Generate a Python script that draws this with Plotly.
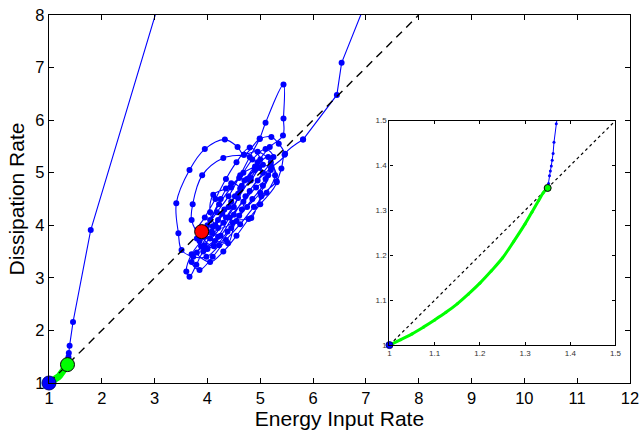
import plotly.graph_objects as go

# ---------------- data ----------------
start_x = [1.0]
start_y = [1.0]
green_pt_x = [1.35]
green_pt_y = [1.35]
red_pt_x = [3.89]
red_pt_y = [3.88]

# green (slow) approach from (1,1) to (1.35,1.35)
green_x = [1.0, 1.025, 1.05, 1.075, 1.10, 1.125, 1.15, 1.175, 1.20, 1.225, 1.25, 1.275, 1.30,
           1.315, 1.33, 1.34, 1.345, 1.35]
green_y = [1.0, 1.012, 1.025, 1.040, 1.056, 1.073, 1.092, 1.114, 1.138, 1.165, 1.194, 1.231, 1.270,
           1.296, 1.322, 1.339, 1.345, 1.35]

# early blue departure (includes off-chart excursion above y=8)
early_x = [1.35, 1.352, 1.354, 1.356, 1.358, 1.360, 1.362, 1.364, 1.369, 1.375, 1.39, 1.455, 1.79,
           3.40, 5.50, 7.30, 6.54, 6.45, 5.81]
early_y = [1.35, 1.360, 1.377, 1.388, 1.399, 1.412, 1.427, 1.452, 1.493, 1.57, 1.71, 2.16, 3.91,
           9.30, 10.5, 9.00, 7.09, 6.48, 5.63]

# chaotic cluster (ends at the red point)
cluster_x = [5.81, 5.47, 5.40, 5.31, 5.02, 4.83, 4.55, 4.39, 4.14, 3.92, 3.79, 3.66, 3.60, 3.70, 3.95,
             4.20, 4.45, 4.70, 4.95, 5.18, 5.43, 5.44, 5.44, 5.10, 4.99, 4.80, 4.62, 4.40, 4.18, 3.98,
             3.85, 4.00, 4.25, 4.50, 4.72, 4.95, 5.21, 5.46, 5.35, 5.21, 4.99, 4.69, 4.57, 4.33, 3.95,
             3.66, 3.41, 3.45, 3.51, 3.73, 3.98, 4.22, 4.45, 4.65, 4.80, 5.05, 5.25, 5.10, 4.85, 4.60,
             4.35, 4.11, 4.05, 4.20, 4.48, 4.75, 5.00, 5.15, 4.90, 4.65, 4.40, 4.15, 3.95, 3.80, 4.05,
             4.30, 4.55, 4.78, 5.00, 5.31, 5.20, 4.95, 4.69, 4.30, 3.90, 3.72, 3.70, 3.85, 4.10, 4.35,
             4.58, 4.82, 5.00, 4.80, 4.55, 4.35, 4.15, 3.95, 3.82,
             4.05, 4.30, 4.50, 4.62, 4.45, 4.25, 4.05, 3.90, 4.12, 4.38, 4.60, 4.85, 5.05, 5.20, 5.05,
             4.82, 4.58, 4.32, 4.10, 3.88, 3.70, 3.85, 4.10, 4.35, 4.62, 4.88, 5.12, 5.28, 5.15, 4.90,
             4.68, 4.45, 4.22, 4.00, 3.80, 3.95, 4.20, 4.42, 4.68, 4.92, 5.10, 4.98, 4.75, 4.52, 4.28,
             4.08, 3.89]
cluster_y = [5.63, 5.36, 5.08, 4.84, 4.55, 4.14, 4.08, 3.66, 3.70, 3.50, 3.25, 3.02, 3.12, 3.45, 3.78,
             4.10, 4.45, 4.85, 5.20, 5.49, 5.71, 6.03, 6.68, 5.95, 5.65, 5.30, 4.95, 4.55, 4.25, 3.95,
             3.70, 3.55, 3.80, 4.20, 4.55, 4.85, 5.10, 5.34, 5.55, 5.68, 5.64, 5.34, 5.49, 5.63, 5.45,
             5.05, 4.42, 3.85, 3.53, 3.40, 3.40, 3.62, 3.95, 4.30, 4.65, 5.00, 5.30, 5.45, 5.25, 4.90,
             4.70, 4.58, 4.25, 3.95, 4.05, 4.35, 4.62, 4.95, 5.05, 4.75, 4.35, 4.00, 3.62, 3.48, 3.30,
             3.50, 3.80, 4.12, 4.40, 4.82, 5.20, 5.40, 5.34, 5.28, 4.95, 4.40, 4.10, 3.85, 3.85, 4.15,
             4.52, 4.90, 5.25, 5.48, 5.20, 4.88, 4.50, 4.15, 3.92,
             3.75, 4.05, 4.35, 4.70, 4.80, 4.50, 4.10, 3.80, 3.60, 3.88, 4.18, 4.50, 4.75, 5.05, 5.15,
             4.85, 4.60, 4.30, 3.98, 3.60, 3.30, 3.15, 3.40, 3.72, 4.02, 4.35, 4.62, 4.95, 5.30, 5.12,
             5.00, 4.72, 4.40, 4.00, 3.75, 3.55, 3.78, 4.15, 4.45, 4.72, 4.88, 5.10, 4.88, 4.55, 4.22,
             3.88, 3.88]

diag_main = [1, 8]
diag_inset = [1, 1.5]

x_ticks_main = [1, 2, 3, 4, 5, 6, 7, 8, 9, 10, 11, 12]
y_ticks_main = [1, 2, 3, 4, 5, 6, 7, 8]
inset_ticks = [1, 1.1, 1.2, 1.3, 1.4, 1.5]
inset_ticklabels = ["1", "1.1", "1.2", "1.3", "1.4", "1.5"]

# ---------------- styles ----------------
BLUE = "#0000ff"
GREEN = "#00ff00"
RED = "#ff0000"
FONT = "Liberation Sans, Arial, sans-serif"

fig = go.Figure()

# ---- main axes ----
fig.add_trace(go.Scatter(x=green_x, y=green_y, mode="lines", line=dict(color=GREEN, width=7),
                         xaxis="x", yaxis="y", hoverinfo="skip"))
fig.add_trace(go.Scatter(x=early_x, y=early_y, mode="lines+markers",
                         line=dict(color=BLUE, width=1.1), marker=dict(color=BLUE, size=6),
                         xaxis="x", yaxis="y"))
fig.add_trace(go.Scatter(x=cluster_x, y=cluster_y, mode="lines+markers",
                         line=dict(color=BLUE, width=1.1, shape="spline", smoothing=1.0),
                         marker=dict(color=BLUE, size=6), xaxis="x", yaxis="y"))
fig.add_trace(go.Scatter(x=diag_main, y=diag_main, mode="lines",
                         line=dict(color="black", width=1.4, dash="8px,6px"), xaxis="x", yaxis="y"))
fig.add_trace(go.Scatter(x=start_x, y=start_y, mode="markers",
                         marker=dict(color=BLUE, size=14, line=dict(color="#000080", width=1)),
                         xaxis="x", yaxis="y", cliponaxis=False))
fig.add_trace(go.Scatter(x=green_pt_x, y=green_pt_y, mode="markers",
                         marker=dict(color=GREEN, size=14, line=dict(color="black", width=1)),
                         xaxis="x", yaxis="y"))
fig.add_trace(go.Scatter(x=red_pt_x, y=red_pt_y, mode="markers",
                         marker=dict(color=RED, size=14, line=dict(color="black", width=1)),
                         xaxis="x", yaxis="y"))

# ---- inset axes ----
fig.add_trace(go.Scatter(x=diag_inset, y=diag_inset, mode="lines",
                         line=dict(color="black", width=1.2, dash="3px,3px"), xaxis="x2", yaxis="y2"))
fig.add_trace(go.Scatter(x=green_x, y=green_y, mode="lines+markers",
                         line=dict(color=GREEN, width=3, shape="spline"),
                         marker=dict(color=GREEN, size=3), xaxis="x2", yaxis="y2"))
fig.add_trace(go.Scatter(x=early_x, y=early_y, mode="lines+markers", line=dict(color=BLUE, width=1),
                         marker=dict(color=BLUE, size=3), xaxis="x2", yaxis="y2"))
fig.add_trace(go.Scatter(x=start_x, y=start_y, mode="markers",
                         marker=dict(color=BLUE, size=7, line=dict(color="#000080", width=1)),
                         xaxis="x2", yaxis="y2", cliponaxis=False))
fig.add_trace(go.Scatter(x=green_pt_x, y=green_pt_y, mode="markers",
                         marker=dict(color=GREEN, size=7, line=dict(color="black", width=1)),
                         xaxis="x2", yaxis="y2"))

axis_common = dict(showgrid=False, zeroline=False, showline=True, linecolor="black",
                   mirror="ticks", ticks="inside", tickcolor="black", automargin=False)

fig.update_layout(
    width=639, height=430,
    margin=dict(l=49, r=9, t=15, b=47, autoexpand=False),
    paper_bgcolor="white", plot_bgcolor="white",
    showlegend=False,
    font=dict(family=FONT, color="black"),
    xaxis=dict(domain=[0, 1], range=[1, 12], tickvals=x_ticks_main, linewidth=1.3, ticklen=5,
               tickfont=dict(size=16.5), ticklabeloverflow="allow",
               title=dict(text="Energy Input Rate", font=dict(size=21), standoff=0),
               **axis_common),
    yaxis=dict(domain=[0, 1], range=[1, 8], tickvals=y_ticks_main, linewidth=1.3, ticklen=5,
               tickfont=dict(size=16.5), ticklabeloverflow="allow",
               title=dict(text="Dissipation Rate", font=dict(size=21), standoff=5),
               **axis_common),
    xaxis2=dict(domain=[0.586, 0.975], range=[1, 1.5], tickvals=inset_ticks, ticktext=inset_ticklabels,
                anchor="y2", linewidth=1.3, ticklen=3, tickfont=dict(size=8, color="#333333"),
                **axis_common),
    yaxis2=dict(domain=[0.103, 0.713], range=[1, 1.5], tickvals=inset_ticks, ticktext=inset_ticklabels,
                anchor="x2", linewidth=1.3, ticklen=3, tickfont=dict(size=8, color="#333333"),
                **axis_common),
)

fig.write_html("out.html", config={"displayModeBar": False},
               post_script="document.body.style.margin='0px';")
